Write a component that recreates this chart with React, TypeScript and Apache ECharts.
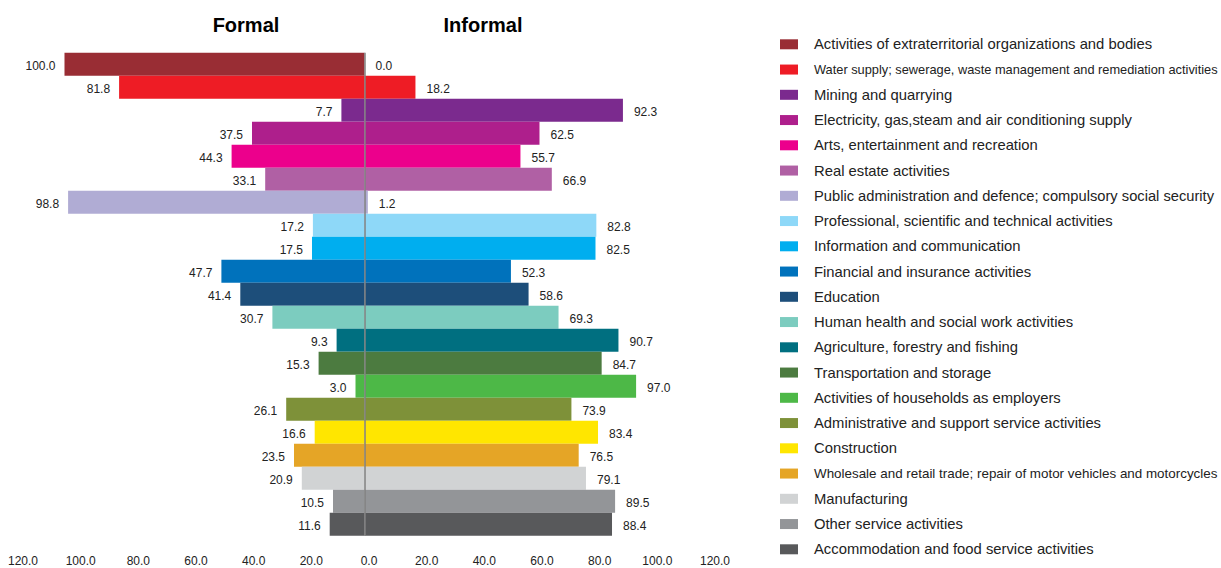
import React, { useEffect, useRef } from "react";
import * as echarts from "echarts";

const categories = [
  "Activities of extraterritorial organizations and bodies",
  "Water supply; sewerage, waste management and remediation activities",
  "Mining and quarrying",
  "Electricity, gas,steam and air conditioning supply",
  "Arts, entertainment and recreation",
  "Real estate activities",
  "Public administration and defence; compulsory social security",
  "Professional, scientific and technical activities",
  "Information and communication",
  "Financial and insurance activities",
  "Education",
  "Human health and social work activities",
  "Agriculture, forestry and fishing",
  "Transportation and storage",
  "Activities of households as employers",
  "Administrative and support service activities",
  "Construction",
  "Wholesale and retail trade; repair of motor vehicles and motorcycles",
  "Manufacturing",
  "Other service activities",
  "Accommodation and food service activities",
];

const formal = [100.0, 81.8, 7.7, 37.5, 44.3, 33.1, 98.8, 17.2, 17.5, 47.7, 41.4, 30.7, 9.3, 15.3, 3.0, 26.1, 16.6, 23.5, 20.9, 10.5, 11.6];
const informal = [0.0, 18.2, 92.3, 62.5, 55.7, 66.9, 1.2, 82.8, 82.5, 52.3, 58.6, 69.3, 90.7, 84.7, 97.0, 73.9, 83.4, 76.5, 79.1, 89.5, 88.4];

const colors = [
  "#992D34", "#EE1C25", "#7B2A8E", "#AE1F8C", "#EC008C", "#B060A4", "#B0ACD4",
  "#8ED8F8", "#00AEEF", "#0072BC", "#1D4E7A", "#7CCCBF", "#006F80", "#4C7B40",
  "#4DB847", "#7E9139", "#FFE600", "#E5A526", "#D1D3D4", "#939598", "#58595B",
];

const legendFontSizes = [14.8, 12.8, 14.8, 14.8, 14.8, 14.8, 14.7, 14.8, 14.8, 14.8, 14.8, 14.8, 14.8, 14.8, 14.8, 14.8, 14.8, 13.4, 14.8, 14.8, 14.8];

const FONT = "'Liberation Sans', Arial, Helvetica, sans-serif";

export default function App() {
  const ref = useRef<HTMLDivElement>(null);
  useEffect(() => {
    if (!ref.current) return;
    const chart = echarts.init(ref.current, null, { renderer: "svg" });
    const legendGraphics: any[] = [];
    categories.forEach((c, i) => {
      legendGraphics.push({
        type: "rect",
        shape: { x: 780, y: 39.3 + i * 25.25, width: 18, height: 10 },
        style: { fill: colors[i] },
      });
      legendGraphics.push({
        type: "text",
        x: 814,
        y: 44.3 + i * 25.25,
        style: {
          text: c,
          fill: "#222",
          font: `${legendFontSizes[i]}px ${FONT}`,
          verticalAlign: "middle",
          textAlign: "left",
        },
      });
    });
    const option: any = {
      animation: false,
      textStyle: { fontFamily: FONT },
      grid: { left: 23, right: 506, top: 52.7, bottom: 32.3, containLabel: false, outerBoundsMode: "none" },
      xAxis: [
        {
          type: "value",
          min: -120,
          max: 120,
          interval: 20,
          splitLine: { show: false },
          axisLine: { show: false },
          axisTick: { show: false },
          axisLabel: {
            margin: 19,
            fontSize: 12,
            lineHeight: 12,
            color: "#222",
            fontFamily: FONT,
            formatter: (v: number) => Math.abs(v).toFixed(1),
          },
        },
        { type: "value", show: false, min: -113.83, max: 116.83 },
        { type: "value", show: false, min: -121.96, max: 125.18 },
      ],
      yAxis: {
        type: "category",
        data: categories,
        inverse: true,
        show: false,
      },
      series: [
        {
          type: "bar",
          name: "Formal",
          xAxisIndex: 1,
          barCategoryGap: "0%",
          barGap: "-100%",
          data: formal.map((v, i) => ({ value: -v, itemStyle: { color: colors[i] } })),
          label: {
            show: true,
            position: "left",
            distance: 9,
            offset: [0, 1.5],
            fontSize: 12,
            color: "#222",
            fontFamily: FONT,
            formatter: (p: any) => Math.abs(p.value).toFixed(1),
          },
        },
        {
          type: "bar",
          name: "Informal",
          xAxisIndex: 2,
          barCategoryGap: "0%",
          barGap: "-100%",
          data: informal.map((v, i) => ({ value: v, itemStyle: { color: colors[i] } })),
          label: {
            show: true,
            position: "right",
            distance: 11,
            offset: [0, 1.5],
            fontSize: 12,
            color: "#222",
            fontFamily: FONT,
            formatter: (p: any) => Number(p.value).toFixed(1),
          },
          markLine: {
            silent: true,
            symbol: "none",
            label: { show: false },
            lineStyle: { color: "#808080", width: 1.5, type: "solid" },
            data: [{ xAxis: 0 }],
          },
        },
      ],
      graphic: [
        {
          type: "text",
          x: 246,
          y: 25,
          style: { text: "Formal", font: `bold 20px ${FONT}`, fill: "#000", textAlign: "center", verticalAlign: "middle" },
        },
        {
          type: "text",
          x: 483,
          y: 25,
          style: { text: "Informal", font: `bold 20px ${FONT}`, fill: "#000", textAlign: "center", verticalAlign: "middle" },
        },
        ...legendGraphics,
      ],
    };
    chart.setOption(option);
    return () => chart.dispose();
  }, []);
  return (
    <div
      ref={ref}
      style={{ position: "fixed", left: 0, top: 0, width: 1221, height: 568, background: "#fff" }}
    />
  );
}
